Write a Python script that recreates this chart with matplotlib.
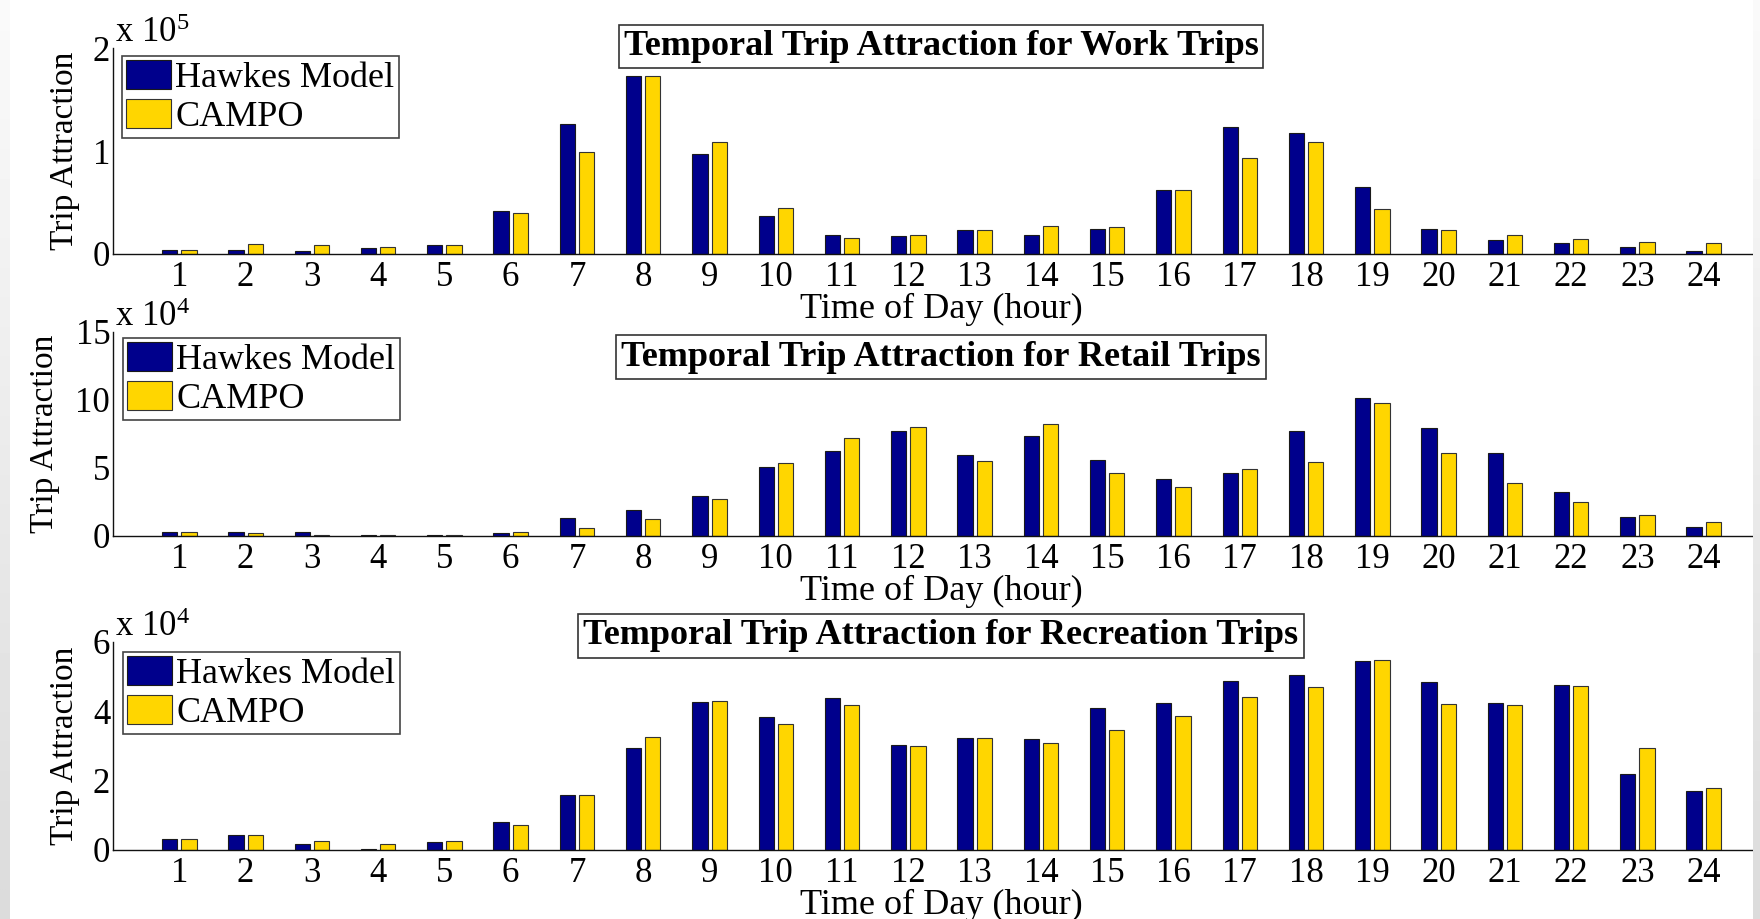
import matplotlib
matplotlib.use("Agg")
import matplotlib.pyplot as plt
from matplotlib.ticker import FuncFormatter
import numpy as np

hours = list(range(1, 25))

work_hawkes = [3800, 4000, 2900, 5800, 8300, 41700, 126500, 172800, 97400, 36900, 18700, 17100,
               22900, 18700, 24600, 62400, 122900, 117100, 65000, 24600, 13600, 10300, 6800, 2900]
work_campo = [3800, 9300, 8300, 6800, 8300, 39800, 99000, 172800, 108700, 44300, 15200, 18700,
              23600, 27200, 26200, 62100, 93300, 108700, 43700, 23600, 18100, 14200, 11900, 11000]

retail_hawkes = [2600, 2600, 2600, 1000, 1000, 1900, 13000, 18900, 29700, 50500, 62500, 77500,
                 59600, 73300, 55900, 41900, 46100, 77500, 101200, 79700, 61300, 32400, 14000, 6900]
retail_campo = [2600, 1900, 1000, 1000, 1000, 3200, 5900, 12500, 27400, 53900, 71800, 80400,
                55400, 82600, 46100, 36000, 49000, 54700, 97500, 61000, 39000, 24800, 15200, 10300]

rec_hawkes = [3060, 4200, 1600, 300, 2200, 8100, 16000, 29400, 42800, 38300, 43900, 30400,
              32200, 31900, 41100, 42400, 48800, 50500, 54400, 48400, 42400, 47500, 22000, 17000]
rec_campo = [3060, 4200, 2500, 1600, 2500, 7200, 16000, 32700, 43100, 36400, 41900, 29900,
             32200, 31000, 34600, 38600, 44100, 46900, 54700, 42100, 41800, 47200, 29400, 18000]

titles = ["Temporal Trip Attraction for Work Trips",
          "Temporal Trip Attraction for Retail Trips",
          "Temporal Trip Attraction for Recreation Trips"]
series_names = ["Hawkes Model", "CAMPO"]
y_ticks = [[0, 1, 2], [0, 5, 10, 15], [0, 2, 4, 6]]
y_exponents = [5, 4, 4]

plt.rcParams['font.family'] = ['Liberation Serif', 'DejaVu Serif']
plt.rcParams['mathtext.default'] = 'regular'

W, H = 1760, 919
fig = plt.figure(figsize=(W / 100, H / 100), dpi=100)
fig.patch.set_facecolor('white')

HAWKES = '#00008c'
CAMPO = '#ffd600'

# pixel layout of each panel: axes top/bottom, title centre, legend corner, ylabel edge
panel_px = [
    dict(top=48, bottom=254, title_y=46.5, leg=(122, 56), ylab=80),
    dict(top=332, bottom=536, title_y=357, leg=(123, 338), ylab=60),
    dict(top=642, bottom=850, title_y=636, leg=(123, 652), ylab=80),
]
ax_left, ax_right = 113, 1770

data = [(work_hawkes, work_campo), (retail_hawkes, retail_campo), (rec_hawkes, rec_campo)]
x = np.array(hours)
bar_w = 0.23
off = 0.145

for i, (hawkes, campo) in enumerate(data):
    p = panel_px[i]
    ax = fig.add_axes([ax_left / W, 1 - p['bottom'] / H,
                       (ax_right - ax_left) / W, (p['bottom'] - p['top']) / H])
    b1 = ax.bar(x - off, hawkes, bar_w, color=HAWKES, edgecolor='#1a1a1a', linewidth=0.8)
    b2 = ax.bar(x + off, campo, bar_w, color=CAMPO, edgecolor='#333333', linewidth=0.8)

    scale = 10 ** y_exponents[i]
    ax.set_xlim(0, 25)
    ax.set_ylim(0, y_ticks[i][-1] * scale)
    ax.set_xticks(hours)
    ax.set_yticks([t * scale for t in y_ticks[i]])
    ax.yaxis.set_major_formatter(FuncFormatter(lambda v, _, s=scale: f'{v / s:g}'))
    ax.tick_params(length=0, labelsize=25)
    ax.tick_params(axis='x', pad=5)
    ax.tick_params(axis='y', pad=2)

    for side in ('top', 'right'):
        ax.spines[side].set_visible(False)
    for side in ('left', 'bottom'):
        ax.spines[side].set_linewidth(1.0)
        ax.spines[side].set_color('#111111')

    ax.set_ylabel('Trip Attraction', fontsize=24)
    ax.yaxis.set_label_coords((p['ylab'] - ax_left) / (ax_right - ax_left), 0.5)
    ax.set_xlabel('Time of Day (hour)', fontsize=26, labelpad=-1)

    ax.annotate('x 10$^{%d}$' % y_exponents[i], xy=(0, 1), xycoords='axes fraction',
                xytext=(1.5, 4), textcoords='offset points', ha='left', va='baseline',
                fontsize=25)

    leg = ax.legend([b1, b2], series_names, loc='upper left',
                    bbox_to_anchor=(p['leg'][0] / W, 1 - p['leg'][1] / H),
                    bbox_transform=fig.transFigure, borderaxespad=0, fontsize=26,
                    handlelength=1.25, handleheight=0.85, handletextpad=0.1,
                    labelspacing=0.1, borderpad=0.12, fancybox=False,
                    edgecolor='#444444', framealpha=1)
    leg.get_frame().set_linewidth(1.2)

    fig.text(941 / W, 1 - p['title_y'] / H, titles[i], ha='center', va='center',
             fontsize=26, fontweight='bold',
             bbox=dict(boxstyle='square,pad=0.14', fc='white', ec='#333333', lw=1.2))

# grey page edges on both sides
grad = np.linspace(0.98, 0.86, 100).reshape(-1, 1)
for x0, w in ((0, 9), (1753, 7)):
    sa = fig.add_axes([x0 / W, 0, w / W, 1], zorder=10)
    sa.imshow(grad, cmap='gray', vmin=0, vmax=1, aspect='auto', interpolation='bilinear')
    sa.axis('off')

fig.savefig('out.png', dpi=100)
